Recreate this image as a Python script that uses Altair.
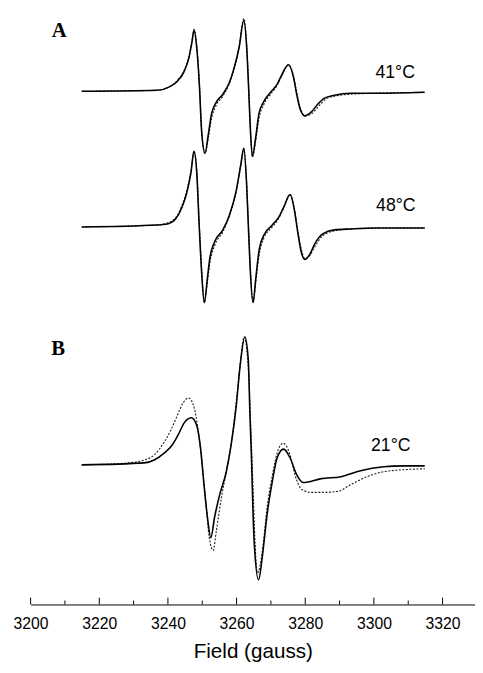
import altair as alt
import pandas as pd

# ---------------- data ----------------
# x: magnetic field (gauss); amplitudes in arbitrary units relative to each spectrum's baseline
field_41 = [3214.9, 3236.9, 3240.7, 3242.7, 3244.7, 3246.1, 3247.0, 3247.6, 3248.4, 3249.2,
            3249.8, 3250.8, 3251.8, 3252.7, 3254.1, 3256.0, 3257.9, 3259.3, 3260.7, 3262.1,
            3262.9, 3263.5, 3263.9, 3264.6, 3265.6, 3266.5, 3268.0, 3269.9, 3271.8, 3273.2,
            3275.1, 3276.6, 3277.5, 3278.5, 3279.9, 3281.8, 3283.7, 3285.6, 3288.5, 3293.3,
            3300.8, 3314.8]
exp_41 = [0, 1, 5, 10, 20, 34, 50, 62, 44, 4,
          -40, -63, -43, -23, -11, -3, 9, 24, 44, 72,
          47, 4, -30, -66, -46, -23, -10, -1, 7, 17,
          27, 14, -3, -18, -25, -21, -13, -7, -4, -2,
          -2, -1]
sim_41 = [0, 1, 5, 11, 21, 35, 51, 63, 46, 6,
          -38, -63, -47, -28, -14, -5, 8, 23, 44, 74,
          49, 6, -28, -67, -50, -28, -13, -3, 6, 16,
          27, 15, -1, -16, -25, -23, -16, -9, -5, -3,
          -2, -1]

field_48 = [3214.9, 3236.9, 3239.8, 3242.2, 3244.1, 3245.5, 3246.7, 3247.6, 3248.4, 3249.1,
            3249.8, 3250.6, 3251.5, 3252.2, 3253.6, 3256.0, 3257.9, 3259.9, 3261.3, 3262.1,
            3262.9, 3263.5, 3264.0, 3264.8, 3265.6, 3266.5, 3268.0, 3270.4, 3272.3, 3273.7,
            3275.6, 3276.8, 3277.8, 3278.8, 3279.9, 3281.3, 3282.8, 3285.1, 3288.5, 3293.3,
            3300.9, 3314.8]
exp_48 = [0, 2, 3, 8, 20, 35, 55, 77, 55, 2,
          -45, -77, -52, -32, -15, -3, 12, 37, 65, 80,
          45, -5, -45, -77, -52, -25, -8, 2, 10, 20,
          33, 18, -5, -25, -33, -28, -17, -7, -3, -2,
          -1, -1]
sim_48 = [0, 2, 4, 9, 22, 37, 57, 77, 57, 5,
          -42, -77, -56, -37, -19, -5, 11, 36, 64, 80,
          47, -2, -42, -77, -56, -30, -11, 0, 9, 19,
          33, 19, -3, -22, -32, -29, -20, -9, -4, -2,
          -1, -1]

field_21_exp = [3214.9, 3233.1, 3236.0, 3238.9, 3241.2, 3243.2, 3244.6, 3246.8, 3248.4, 3249.5,
                3250.5, 3251.5, 3252.5, 3253.6, 3255.1, 3257.0, 3258.4, 3259.9, 3261.0, 3262.4,
                3263.4, 3263.9, 3264.4, 3264.8, 3265.2, 3266.4, 3267.5, 3268.9, 3270.4, 3271.8,
                3273.7, 3275.6, 3277.5, 3279.4, 3284.7, 3290.4, 3296.1, 3302.8, 3308.5, 3314.8]
exp_21 = [0, 2, 5, 12, 20, 32, 42, 48, 40, 17,
          -20, -53, -74, -53, -30, -7, 20, 60, 100, 130,
          107, 50, 0, -50, -83, -117, -93, -50, -17, 7,
          16, 7, -10, -18, -14, -12, -6, -2, -1, -1]

field_21_sim = [3214.9, 3228.4, 3233.1, 3236.0, 3238.9, 3240.8, 3242.7, 3244.4, 3246.0, 3247.5,
                3248.6, 3249.8, 3251.1, 3252.0, 3253.2, 3254.1, 3255.6, 3257.0, 3258.9, 3260.3,
                3261.3, 3262.2, 3263.4, 3264.2, 3264.9, 3265.3, 3266.1, 3267.5, 3268.9, 3270.4,
                3271.8, 3273.5, 3275.6, 3277.0, 3279.0, 3281.8, 3285.6, 3289.4, 3293.3, 3298.0,
                3302.8, 3308.5, 3314.8]
sim_21 = [0, 2, 5, 10, 23, 35, 50, 63, 68, 60,
          40, 7, -40, -73, -87, -67, -33, -7, 33, 77,
          110, 130, 100, 33, -33, -73, -110, -88, -43, -11,
          12, 22, 10, -10, -25, -28, -28, -27, -20, -12,
          -7, -5, -4]

temperatures = ["41°C", "48°C", "21°C"]
panel_letters = ["A", "B"]
major_ticks = [3200, 3220, 3240, 3260, 3280, 3300, 3320]
minor_ticks = [3210, 3230, 3250, 3270, 3290, 3310]

# ---------------- layout constants (vertical stacking of spectra) ----------------
baseline = {"41°C": 522, "48°C": 384, "21°C": 142}
label_pos = {"41°C": (3306.2, 541), "48°C": (3306.4, 405), "21°C": (3304.9, 161)}
letter_pos = {"A": (3208.3, 583), "B": (3208.0, 260)}

W, H = 452, 601
X_DOMAIN = [3200, 3329.45]

rows = []
def add(fields, amps, temp, kind):
    for f, a in zip(fields, amps):
        rows.append({"field": f, "signal": a + baseline[temp], "temp": temp, "kind": kind})

add(field_41, exp_41, "41°C", "exp")
add(field_41, sim_41, "41°C", "sim")
add(field_48, exp_48, "48°C", "exp")
add(field_48, sim_48, "48°C", "sim")
add(field_21_exp, exp_21, "21°C", "exp")
add(field_21_sim, sim_21, "21°C", "sim")
df = pd.DataFrame(rows)

labels_df = pd.DataFrame({
    "field": [label_pos[t][0] for t in temperatures],
    "signal": [label_pos[t][1] for t in temperatures],
    "text": temperatures,
})
letters_df = pd.DataFrame({
    "field": [letter_pos[l][0] for l in panel_letters],
    "signal": [letter_pos[l][1] for l in panel_letters],
    "text": panel_letters,
})
major_df = pd.DataFrame({"field": major_ticks})
minor_df = pd.DataFrame({"field": minor_ticks})

xscale = alt.Scale(domain=X_DOMAIN, nice=False, zero=False)
yscale = alt.Scale(domain=[0, H], nice=False, zero=False)
Y = alt.Y("signal:Q", scale=yscale, axis=None)

main_axis = alt.Axis(
    orient="bottom", values=major_ticks, format="d", ticks=False, domain=True,
    domainColor="black", domainWidth=1, grid=False,
    labelFont="Liberation Sans", labelFontSize=16, labelColor="black",
    labelPadding=11, labelFlush=False, labelOverlap=False,
    titleFont="Liberation Sans", titleFontSize=21, titleFontWeight="normal",
    titleColor="black", titlePadding=10, titleX=226,
)

def X():
    return alt.X("field:Q", scale=xscale, axis=main_axis, title="Field (gauss)")

sim_layer = alt.Chart(df).transform_filter(alt.datum.kind == "sim").mark_line(
    interpolate="monotone", color="#1a1a1a", strokeWidth=1.1, strokeDash=[2, 1.6]
).encode(x=X(), y=Y, detail="temp:N")

exp_layer = alt.Chart(df).transform_filter(alt.datum.kind == "exp").mark_line(
    interpolate="monotone", color="black", strokeWidth=1.6
).encode(x=X(), y=Y, detail="temp:N")

major_layer = alt.Chart(major_df).mark_rule(color="black", strokeWidth=1).encode(
    x=X(), y=alt.value(H - 7), y2=alt.value(H),
)
minor_layer = alt.Chart(minor_df).mark_rule(color="black", strokeWidth=1).encode(
    x=X(), y=alt.value(H - 4), y2=alt.value(H),
)

temp_text = alt.Chart(labels_df).mark_text(
    font="Liberation Sans", fontSize=18, color="black", align="center", baseline="middle"
).encode(x=X(), y=Y, text="text:N")

letter_text = alt.Chart(letters_df).mark_text(
    font="Liberation Serif", fontSize=21, fontWeight="bold", color="black",
    align="center", baseline="middle"
).encode(x=X(), y=Y, text="text:N")

chart = alt.layer(
    sim_layer, exp_layer, major_layer, minor_layer, temp_text, letter_text
).properties(
    width=W, height=H,
    padding={"left": 23, "top": 0, "right": 0, "bottom": 64},
    autosize=alt.AutoSizeParams(type="none"),
    background="white",
).configure_view(stroke=None)

chart.save("out.html", embed_options={"renderer": "svg", "actions": False})
